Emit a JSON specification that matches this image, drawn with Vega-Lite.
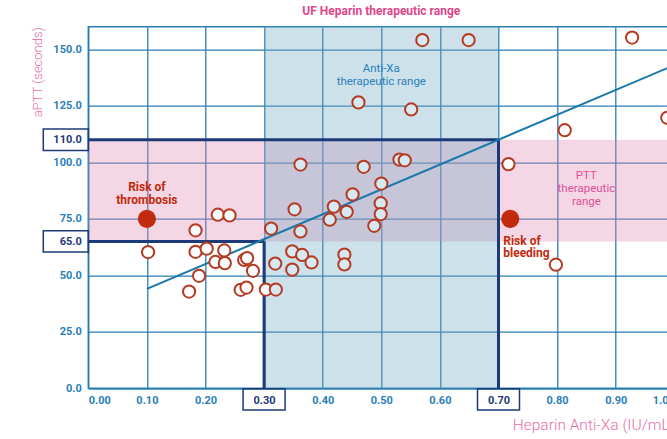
{
  "$schema": "https://vega.github.io/schema/vega-lite/v6.json",
  "width": 586,
  "height": 361.6,
  "autosize": {"type": "none"},
  "padding": {"left": 88.3, "top": 26.7, "right": -7.3, "bottom": 50.7},
  "config": {
    "font": "Roboto",
    "view": {"stroke": "#2b7cb3", "strokeWidth": 1.5},
    "axis": {
      "domain": false,
      "ticks": false,
      "gridColor": "#2b7cb3",
      "gridWidth": 1.3,
      "gridOpacity": 1,
      "labelFont": "Roboto",
      "labelFontWeight": "bold",
      "labelFontSize": 11,
      "titleFont": "Roboto",
      "titleFontWeight": 300,
      "titleColor": "#e66ea6"
    }
  },
  "title": {
    "text": "UF Heparin therapeutic range",
    "font": "Roboto",
    "fontSize": 12,
    "fontWeight": "bold",
    "color": "#e0468a",
    "anchor": "middle",
    "offset": 9
  },
  "encoding": {
    "x": {
      "field": "x",
      "type": "quantitative",
      "scale": {"domain": [0, 1], "nice": false, "zero": false},
      "axis": {
        "title": "Heparin Anti-Xa (IU/mL)",
        "titleFontSize": 15.5,
        "titleAnchor": "end",
        "titlePadding": 12,
        "values": [0, 0.1, 0.2, 0.3, 0.4, 0.5, 0.6, 0.7, 0.8, 0.9, 1.0],
        "format": ".2f",
        "labelPadding": 6,
        "labelColor": {"condition": {"test": "datum.value == 0.3 || datum.value == 0.7", "value": "#1d3a78"}, "value": "#2a80b8"}
      }
    },
    "y": {
      "field": "y",
      "type": "quantitative",
      "scale": {"domain": [0, 160], "nice": false, "zero": false},
      "axis": {
        "title": "aPTT (seconds)",
        "titleFontSize": 13,
        "titleAnchor": "end",
        "titlePadding": 8,
        "values": [0, 25, 50, 65, 75, 100, 110, 125, 150],
        "format": ".1f",
        "labelPadding": 7,
        "labelColor": {"condition": {"test": "datum.value == 65 || datum.value == 110", "value": "#1d3a78"}, "value": "#2a80b8"},
        "gridColor": {"condition": {"test": "datum.value == 65 || datum.value == 110", "value": "transparent"}, "value": "#2b7cb3"}
      }
    }
  },
  "layer": [
    {
      "data": {"values": [
        {"region": "PTT", "x": 0, "x2": 1, "y": 65, "y2": 110},
        {"region": "Anti-Xa", "x": 0.3, "x2": 0.7, "y": 0, "y2": 160}
      ]},
      "mark": {"type": "rect", "opacity": 0.35},
      "encoding": {
        "x2": {"field": "x2"},
        "y2": {"field": "y2"},
        "color": {"field": "region", "type": "nominal", "scale": {"domain": ["PTT", "Anti-Xa"], "range": ["#e28ab2", "#70a9c3"]}, "legend": null}
      }
    },
    {
      "data": {"values": [
        {"x": 0, "x2": 0.7, "y": 110, "y2": 110},
        {"x": 0, "x2": 0.3, "y": 65, "y2": 65},
        {"x": 0.3, "x2": 0.3, "y": 0, "y2": 65},
        {"x": 0.7, "x2": 0.7, "y": 0, "y2": 110}
      ]},
      "mark": {"type": "rule", "color": "#1d3a78", "strokeWidth": 3},
      "encoding": {"x2": {"field": "x2"}, "y2": {"field": "y2"}}
    },
    {
      "data": {"values": [{"x": 0.1, "y": 44}, {"x": 1.0, "y": 143}]},
      "mark": {"type": "line", "color": "#1b78aa", "strokeWidth": 2, "clip": true},
      "encoding": {}
    },
    {
      "data": {"values": [
        {"x": 0.570, "y": 154.1}, {"x": 0.649, "y": 154.1}, {"x": 0.928, "y": 155.2},
        {"x": 0.461, "y": 126.5}, {"x": 0.551, "y": 123.4}, {"x": 0.813, "y": 114.2},
        {"x": 0.988, "y": 119.7}, {"x": 0.717, "y": 99.2}, {"x": 0.531, "y": 101.2},
        {"x": 0.540, "y": 100.9}, {"x": 0.470, "y": 98.0}, {"x": 0.362, "y": 99.0},
        {"x": 0.500, "y": 90.6}, {"x": 0.451, "y": 85.8}, {"x": 0.352, "y": 79.2},
        {"x": 0.419, "y": 80.4}, {"x": 0.441, "y": 78.1}, {"x": 0.499, "y": 81.9},
        {"x": 0.499, "y": 77.1}, {"x": 0.412, "y": 74.6}, {"x": 0.488, "y": 71.9},
        {"x": 0.312, "y": 70.7}, {"x": 0.362, "y": 69.4}, {"x": 0.348, "y": 60.6},
        {"x": 0.365, "y": 59.0}, {"x": 0.381, "y": 55.7}, {"x": 0.319, "y": 55.2},
        {"x": 0.348, "y": 52.5}, {"x": 0.437, "y": 59.2}, {"x": 0.437, "y": 54.8},
        {"x": 0.221, "y": 76.8}, {"x": 0.241, "y": 76.5}, {"x": 0.183, "y": 69.9},
        {"x": 0.102, "y": 60.3}, {"x": 0.183, "y": 60.4}, {"x": 0.202, "y": 61.8},
        {"x": 0.232, "y": 61.0}, {"x": 0.217, "y": 55.9}, {"x": 0.233, "y": 55.4},
        {"x": 0.266, "y": 56.8}, {"x": 0.271, "y": 57.6}, {"x": 0.281, "y": 52.0},
        {"x": 0.189, "y": 49.8}, {"x": 0.172, "y": 42.8}, {"x": 0.260, "y": 43.6},
        {"x": 0.270, "y": 44.6}, {"x": 0.303, "y": 43.7}, {"x": 0.320, "y": 43.7},
        {"x": 0.798, "y": 54.7}
      ]},
      "mark": {"type": "point", "shape": "circle", "size": 150, "strokeWidth": 2, "stroke": "#b63a22", "opacity": 1, "filled": false, "clip": true},
      "encoding": {
        "fill": {"condition": {"test": "datum.x >= 0.305 && datum.x <= 0.7", "value": "#d6e8f0"}, "value": "#ffffff"}
      }
    },
    {
      "data": {"values": [{"x": 0.10, "y": 75, "risk": "thrombosis"}, {"x": 0.72, "y": 75, "risk": "bleeding"}]},
      "mark": {"type": "circle", "size": 330, "color": "#c22a0e", "opacity": 1}
    },
    {
      "data": {"values": [{"x": 0.3, "y": 0}, {"x": 0.7, "y": 0}]},
      "mark": {"type": "rect", "fill": "transparent", "stroke": "#1d3a78", "strokeWidth": 1.5, "xOffset": -21, "x2Offset": 21, "yOffset": 0.5, "y2Offset": 21.7},
      "encoding": {
        "x2": {"field": "x"},
        "y2": {"field": "y"}
      }
    },
    {
      "data": {"values": [{"x": 0, "y": 110}, {"x": 0, "y": 65}]},
      "mark": {"type": "rect", "fill": "transparent", "stroke": "#1d3a78", "strokeWidth": 1.5, "xOffset": -45, "x2Offset": 0, "yOffset": -10.7, "y2Offset": 10.7},
      "encoding": {
        "x2": {"field": "x"},
        "y2": {"field": "y"}
      }
    },
    {
      "data": {"values": [{"x": 0.10, "y": 75, "t": ["Risk of", "thrombosis"]}]},
      "mark": {"type": "text", "align": "center", "baseline": "alphabetic", "dy": -28, "lineHeight": 13, "font": "Roboto", "fontSize": 12, "fontWeight": "bold", "color": "#c22a0e"},
      "encoding": {"text": {"field": "t"}}
    },
    {
      "data": {"values": [{"x": 0.72, "y": 75, "t": ["Risk of", "bleeding"]}]},
      "mark": {"type": "text", "align": "left", "baseline": "alphabetic", "dx": -7, "dy": 26, "lineHeight": 12.5, "font": "Roboto", "fontSize": 12, "fontWeight": "bold", "color": "#c22a0e"},
      "encoding": {"text": {"field": "t"}}
    },
    {
      "data": {"values": [{"x": 0.5, "y": 140, "t": ["Anti-Xa", "therapeutic range"]}]},
      "mark": {"type": "text", "align": "center", "baseline": "alphabetic", "lineHeight": 12.7, "font": "Roboto", "fontSize": 11.5, "color": "#2a80b8"},
      "encoding": {"text": {"field": "t"}}
    },
    {
      "data": {"values": [{"x": 0.85, "y": 92.6, "t": ["PTT", "therapeutic", "range"]}]},
      "mark": {"type": "text", "align": "center", "baseline": "alphabetic", "lineHeight": 13, "font": "Roboto", "fontSize": 11.5, "color": "#e0509a"},
      "encoding": {"text": {"field": "t"}}
    }
  ]
}
